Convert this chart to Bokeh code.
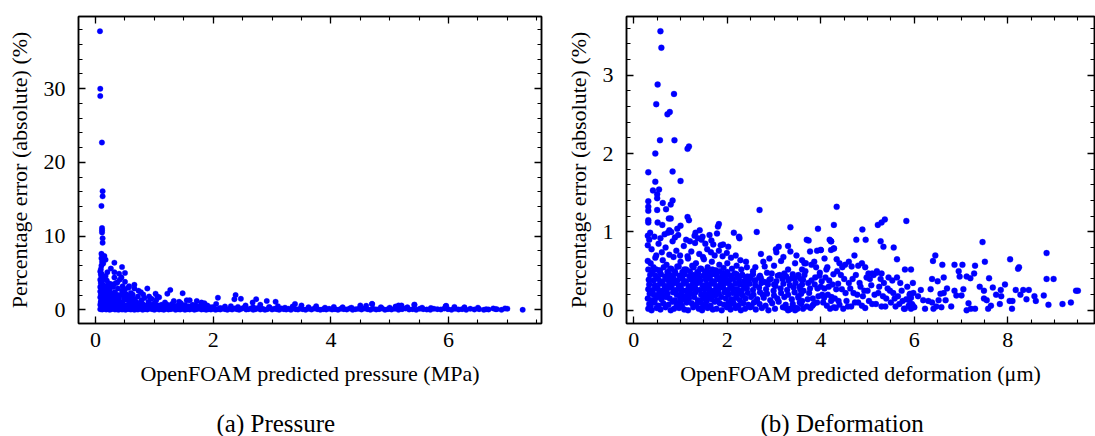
from bokeh.plotting import figure
from bokeh.models import LinearAxis, SingleIntervalTicker, Range1d, CustomJSTickFormatter
from bokeh.core.properties import value
from bokeh.layouts import row, column
from bokeh.embed import file_html
from bokeh.resources import INLINE

FONT = "Liberation Serif"
BLUE = "#0000ff"

# ---------------- (a) Pressure: predicted pressure (MPa) vs abs % error ----------------
pressure_outlier_x = [
    0.075, 0.08, 0.08, 0.108, 0.12, 0.12, 0.1, 0.11, 0.11, 0.11,
    0.12, 0.12, 0.1, 0.12, 0.15, 0.1, 0.17, 0.13, 0.1, 0.32,
    0.45, 0.26, 0.2, 0.32, 0.4, 0.5, 0.44, 0.32, 0.5, 0.37,
    0.57, 0.66, 0.66, 0.47, 0.51, 0.77, 0.88, 0.91, 1.02, 1.05,
    1.22, 1.27, 1.6, 1.85, 1.72, 1.48, 2.38, 2.36, 2.08, 2.73,
    2.67, 2.47, 2.91, 3.06, 3.39, 1.42, 0.11, 0.09, 7.26, 6.96,
]
pressure_outlier_err = [
    37.8, 30.0, 29.0, 22.7, 16.1, 15.4, 14.1, 11.1, 10.8, 10.5,
    9.7, 9.1, 7.6, 7.3, 7.3, 7.0, 6.8, 6.3, 6.0, 6.4,
    5.8, 5.6, 5.1, 5.1, 4.9, 5.0, 4.4, 4.4, 3.8, 3.7,
    3.2, 3.4, 2.9, 2.2, 2.2, 2.4, 2.9, 1.8, 2.2, 1.8,
    2.2, 2.7, 1.3, 0.9, 1.2, 2.25, 2.0, 1.45, 1.65, 1.45,
    1.0, 1.5, 1.2, 1.1, 0.8, 1.1, 6.5, 5.5, 0.0, 0.2,
]
pressure_cluster_x = [
    0.08, 0.09, 0.1, 0.08, 0.11, 0.09, 0.12, 0.08, 0.1, 0.13,
    0.08, 0.11, 0.09, 0.14, 0.08, 0.1, 0.12, 0.09, 0.15, 0.08,
    0.1, 0.13, 0.08, 0.11, 0.16, 0.09, 0.12, 0.14, 0.18, 0.2,
    0.17, 0.19, 0.22, 0.16, 0.21, 0.24, 0.18, 0.23, 0.27, 0.2,
    0.25, 0.28, 0.3, 0.26, 0.33, 0.29, 0.35, 0.31, 0.38, 0.34,
    0.36, 0.4, 0.42, 0.39, 0.45, 0.43, 0.48, 0.41, 0.52, 0.46,
    0.55, 0.5, 0.58, 0.53, 0.6, 0.62, 0.56, 0.65, 0.68, 0.63,
    0.7, 0.72, 0.75, 0.78, 0.73, 0.8, 0.83, 0.86, 0.81, 0.9,
    0.93, 0.95, 0.98, 1.0, 1.03, 1.06, 1.08, 1.12, 1.15, 1.18,
    1.2, 1.25, 1.3, 1.33, 1.38, 1.42, 1.45, 1.5, 1.55, 1.6,
    1.65, 1.7, 1.75, 1.8, 1.85, 1.9, 1.95, 2.0, 2.05, 2.12,
    0.1, 0.13, 0.16, 0.19, 0.22, 0.25, 0.28, 0.31, 0.34, 0.37,
    0.4, 0.43, 0.46, 0.49, 0.52, 0.55, 0.58, 0.61, 0.64, 0.67,
    0.09, 0.11, 0.13, 0.15, 0.17, 0.19, 0.21, 0.23, 0.1, 0.14,
]
pressure_cluster_err = [
    5.2, 4.8, 4.5, 4.1, 3.9, 3.6, 3.4, 3.1, 2.9, 2.7,
    2.5, 2.3, 2.1, 1.9, 1.7, 1.5, 1.3, 1.1, 0.9, 0.7,
    0.5, 0.3, 0.1, 0.05, 0.6, 1.0, 1.6, 2.2, 2.8, 3.3,
    4.6, 4.0, 3.6, 2.5, 2.0, 2.6, 1.2, 1.5, 1.9, 0.4,
    0.2, 0.9, 3.1, 3.5, 2.4, 1.3, 1.8, 0.6, 2.9, 3.6,
    1.1, 0.3, 2.0, 1.5, 2.6, 0.9, 1.6, 4.1, 0.5, 3.2,
    1.9, 2.8, 1.2, 0.2, 2.3, 0.7, 3.0, 1.5, 0.3, 2.1,
    1.0, 1.8, 0.4, 1.3, 2.6, 0.8, 1.6, 0.2, 2.1, 1.1,
    0.5, 1.5, 0.2, 0.9, 1.3, 0.4, 1.7, 0.7, 0.2, 1.0,
    0.5, 0.2, 0.8, 1.2, 0.4, 0.1, 0.9, 0.5, 1.3, 0.3,
    0.7, 0.2, 0.5, 1.0, 0.3, 0.6, 0.15, 0.4, 0.8, 0.25,
    1.2, 2.0, 1.4, 0.9, 2.9, 1.0, 2.2, 1.6, 0.8, 2.0,
    1.2, 0.5, 1.0, 2.2, 1.4, 0.6, 1.7, 1.0, 0.9, 1.3,
    3.9, 3.1, 2.6, 3.0, 1.8, 2.3, 1.1, 3.0, 4.9, 4.3,
]
pressure_band_x = [
    0.12, 0.15, 0.18, 0.21, 0.24, 0.27, 0.3, 0.33, 0.36, 0.39,
    0.42, 0.45, 0.48, 0.51, 0.54, 0.57, 0.6, 0.63, 0.66, 0.69,
    0.72, 0.76, 0.8, 0.84, 0.88, 0.92, 0.96, 1.0, 1.04, 1.08,
    1.12, 1.16, 1.2, 1.24, 1.28, 1.32, 1.36, 1.4, 1.44, 1.48,
    1.52, 1.56, 1.6, 1.64, 1.68, 1.72, 1.76, 1.8, 1.84, 1.88,
    1.92, 1.96, 2.0, 2.04, 2.08, 2.12, 2.16, 2.2, 2.24, 2.28,
    0.14, 0.2, 0.26, 0.32, 0.38, 0.44, 0.5, 0.56, 0.62, 0.68,
    0.74, 0.8, 0.86, 0.92, 0.98, 1.04, 1.1, 1.16, 1.22, 1.28,
    1.34, 1.4, 1.46, 1.52, 1.58, 1.64, 1.7, 1.76, 1.82, 1.88,
    2.32, 2.36, 2.4, 2.44, 2.48, 2.52, 2.56, 2.6, 2.64, 2.68,
    2.72, 2.76, 2.8, 2.84, 2.88, 2.92, 2.96, 3.0, 3.04, 3.08,
    3.12, 3.16, 3.2, 3.24, 3.28, 3.32, 3.36, 3.4, 3.44, 3.48,
    3.52, 3.57, 3.62, 3.67, 3.72, 3.77, 3.82, 3.87, 3.92, 3.97,
    4.02, 4.07, 4.12, 4.17, 4.22, 4.27, 4.32, 4.37, 4.42, 4.47,
    4.52, 4.57, 4.62, 4.67, 4.72, 4.77, 4.82, 4.87, 4.92, 4.97,
    5.03, 5.09, 5.15, 5.21, 5.27, 5.33, 5.39, 5.45, 5.51, 5.57,
    5.63, 5.69, 5.75, 5.81, 5.87, 5.93, 5.99, 6.05, 6.11, 6.17,
    6.23, 6.3, 6.37, 6.44, 6.52, 6.6, 6.68, 6.8, 6.9, 7.0,
    2.3, 2.42, 2.55, 2.68, 2.8, 2.95, 3.1, 3.22, 3.35, 3.5,
    3.62, 3.75, 3.9, 4.05, 4.2, 4.35, 4.5, 4.6, 4.7, 4.85,
    5.0, 5.1, 5.2, 5.3, 5.42, 5.55, 5.7, 5.95, 6.1, 6.5,
    6.82, 6.76, 6.64, 6.27, 5.96, 5.42, 5.15, 4.7, 2.2, 1.95,
]
pressure_band_err = [
    0.1, 0.2, 0.05, 0.15, 0.0, 0.1, 0.2, 0.05, 0.1, 0.0,
    0.15, 0.05, 0.1, 0.0, 0.2, 0.1, 0.05, 0.15, 0.0, 0.1,
    0.05, 0.15, 0.0, 0.1, 0.05, 0.2, 0.1, 0.0, 0.15, 0.05,
    0.1, 0.0, 0.15, 0.05, 0.1, 0.2, 0.0, 0.1, 0.05, 0.15,
    0.0, 0.1, 0.05, 0.15, 0.0, 0.1, 0.2, 0.05, 0.1, 0.0,
    0.1, 0.05, 0.15, 0.0, 0.1, 0.05, 0.2, 0.1, 0.0, 0.15,
    0.6, 0.8, 0.5, 0.7, 0.55, 0.9, 0.6, 0.75, 0.5, 0.65,
    0.7, 0.5, 0.6, 0.8, 0.55, 0.65, 0.5, 0.6, 0.7, 0.45,
    0.55, 0.6, 0.4, 0.65, 0.5, 0.45, 0.6, 0.4, 0.55, 0.45,
    0.05, 0.2, 0.1, 0.0, 0.15, 0.3, 0.05, 0.1, 0.2, 0.0,
    0.1, 0.25, 0.05, 0.15, 0.0, 0.1, 0.3, 0.05, 0.15, 0.1,
    0.0, 0.2, 0.1, 0.05, 0.15, 0.0, 0.25, 0.1, 0.05, 0.2,
    0.1, 0.0, 0.15, 0.05, 0.2, 0.1, 0.0, 0.1, 0.05, 0.15,
    0.05, 0.1, 0.0, 0.15, 0.1, 0.05, 0.2, 0.0, 0.1, 0.15,
    0.05, 0.2, 0.1, 0.0, 0.15, 0.05, 0.1, 0.2, 0.0, 0.1,
    0.05, 0.15, 0.0, 0.1, 0.2, 0.05, 0.1, 0.0, 0.15, 0.1,
    0.05, 0.0, 0.15, 0.1, 0.05, 0.2, 0.1, 0.0, 0.15, 0.05,
    0.1, 0.0, 0.15, 0.05, 0.1, 0.0, 0.05, 0.1, 0.0, 0.15,
    0.5, 0.4, 0.6, 0.35, 0.7, 0.4, 0.5, 0.3, 0.45, 0.6,
    0.35, 0.5, 0.3, 0.4, 0.35, 0.3, 0.6, 0.55, 0.8, 0.35,
    0.3, 0.45, 0.6, 0.35, 0.7, 0.3, 0.25, 0.5, 0.4, 0.3,
    0.1, 0.2, 0.1, 0.35, 0.55, 0.7, 0.6, 0.8, 0.45, 0.35,
]

# ---------------- (b) Deformation: predicted deformation (um) vs abs % error ----------------
deform_outlier_x = [
    0.57, 0.59, 0.51, 0.86, 0.48, 0.77, 0.72, 0.56, 0.87, 1.18,
    1.15, 0.46, 0.31, 0.83, 1.0, 0.46, 0.41, 0.54, 0.5, 0.5,
    0.31, 0.62, 0.83, 0.79, 0.31, 0.69, 0.5, 0.31, 2.69, 4.34,
    1.15, 1.18, 0.75, 0.79, 5.37, 5.83, 5.3, 5.22, 0.31, 0.31,
    0.51, 0.61, 1.0, 0.93, 1.82, 1.8, 4.28, 3.94, 4.89, 0.76,
    0.8, 0.35, 2.63, 2.14, 1.41, 3.35, 7.46, 8.83, 6.45, 5.34,
    5.28, 4.96, 4.76, 4.19, 4.22, 4.28, 4.22, 3.3, 3.1, 3.04,
    4.0, 3.77, 1.32, 1.47, 1.66, 1.91, 2.02, 2.25, 2.26, 7.51,
    8.05, 6.4, 6.6, 6.86, 7.03, 7.3, 5.63, 5.56, 5.93, 5.8,
    8.24, 8.22, 8.83, 8.98, 6.38, 6.5, 6.63, 6.97, 7.12, 7.28,
    7.2, 6.95, 9.46, 9.35, 9.17, 8.87, 8.77, 8.57, 8.45, 8.33,
    8.27, 8.17, 8.04, 8.09, 7.94, 7.85, 7.86, 7.83, 7.64, 7.58,
    7.55, 7.6, 7.68, 7.49, 7.49, 7.3, 7.21, 7.12, 7.16, 7.01,
    7.05, 6.86, 6.9, 6.79, 6.67, 6.63, 6.56, 6.52, 6.58, 6.47,
    6.41, 6.38, 6.35, 6.23, 6.19, 6.14, 6.08, 5.97, 5.93, 5.91,
    5.89, 5.97, 9.5, 8.4, 8.6, 8.1, 7.75, 6.7, 7.4, 6.3,
]
deform_outlier_err = [
    3.56, 3.35, 2.88, 2.76, 2.63, 2.53, 2.5, 2.17, 2.17, 2.09,
    2.06, 2.0, 1.76, 1.77, 1.65, 1.64, 1.53, 1.54, 1.48, 1.43,
    1.39, 1.37, 1.4, 1.35, 1.32, 1.29, 1.28, 1.27, 1.28, 1.32,
    1.19, 1.15, 1.17, 1.17, 1.16, 1.14, 1.12, 1.09, 1.15, 1.12,
    1.12, 1.09, 1.08, 1.04, 1.1, 1.07, 1.09, 1.04, 1.03, 1.02,
    1.0, 0.99, 1.0, 0.99, 1.02, 1.06, 0.87, 0.73, 0.7, 0.81,
    0.88, 0.9, 0.9, 0.9, 0.88, 0.79, 0.77, 0.82, 0.81, 0.78,
    0.77, 0.75, 0.99, 0.94, 0.89, 0.84, 0.81, 0.94, 0.92, 0.62,
    0.65, 0.63, 0.58, 0.58, 0.58, 0.57, 0.65, 0.8, 0.52, 0.52,
    0.55, 0.53, 0.4, 0.4, 0.4, 0.37, 0.42, 0.43, 0.43, 0.47,
    0.41, 0.5, 0.25, 0.1, 0.08, 0.07, 0.19, 0.18, 0.26, 0.26,
    0.2, 0.26, 0.12, 0.02, 0.33, 0.26, 0.18, 0.08, 0.06, 0.02,
    0.13, 0.41, 0.29, 0.25, 0.15, 0.02, 0.02, 0.0, 0.09, 0.19,
    0.27, 0.25, 0.19, 0.05, 0.13, 0.22, 0.21, 0.13, 0.04, 0.05,
    0.02, 0.1, 0.27, 0.02, 0.13, 0.26, 0.18, 0.06, 0.02, 0.21,
    0.13, 0.35, 0.25, 0.14, 0.12, 0.12, 0.2, 0.28, 0.3, 0.12,
]
deform_dense_x = [
    0.31, 0.38, 0.49, 0.57, 0.68, 0.79, 0.86, 0.97, 1.08, 1.16,
    1.27, 1.39, 1.46, 1.58, 1.69, 1.77, 1.88, 1.99, 2.07, 2.18,
    2.29, 2.38, 2.49, 2.61, 2.74, 2.88, 3.02, 3.19, 3.33, 3.48,
    0.33, 0.44, 0.53, 0.63, 0.74, 0.83, 0.94, 1.03, 1.13, 1.24,
    1.34, 1.43, 1.53, 1.64, 1.73, 1.84, 1.93, 2.03, 2.14, 2.24,
    2.34, 2.45, 2.57, 2.69, 2.82, 2.96, 3.1, 3.25, 3.4, 3.55,
    0.3, 0.39, 0.48, 0.59, 0.69, 0.77, 0.88, 0.99, 1.07, 1.18,
    1.29, 1.37, 1.48, 1.57, 1.67, 1.79, 1.87, 1.97, 2.09, 2.19,
    2.27, 2.39, 2.51, 2.64, 2.78, 2.92, 3.07, 3.22, 3.38, 3.52,
    0.34, 0.43, 0.54, 0.64, 0.72, 0.84, 0.92, 1.02, 1.14, 1.22,
    1.32, 1.44, 1.52, 1.62, 1.74, 1.82, 1.94, 2.02, 2.12, 2.22,
    2.33, 2.44, 2.56, 2.7, 2.85, 3.0, 3.15, 3.3, 3.44, 3.58,
    0.31, 0.41, 0.51, 0.61, 0.71, 0.81, 0.91, 1.01, 1.11, 1.21,
    1.31, 1.41, 1.51, 1.61, 1.71, 1.81, 1.91, 2.01, 2.11, 2.21,
    2.31, 2.42, 2.55, 2.68, 2.83, 2.99, 3.14, 3.28, 3.42, 3.56,
    0.33, 0.45, 0.56, 0.66, 0.76, 0.87, 0.96, 1.06, 1.17, 1.26,
    1.36, 1.47, 1.56, 1.66, 1.76, 1.86, 1.96, 2.06, 2.17, 2.27,
    2.37, 2.48, 2.6, 2.73, 2.87, 3.03, 3.2, 3.34, 3.46, 3.6,
    0.32, 0.42, 0.52, 0.62, 0.73, 0.82, 0.93, 1.04, 1.12, 1.23,
    1.33, 1.42, 1.54, 1.63, 1.72, 1.83, 1.92, 2.04, 2.13, 2.25,
    2.36, 2.47, 2.59, 2.72, 2.9, 3.05, 3.18, 3.31, 3.45, 3.62,
    0.35, 0.47, 0.58, 0.67, 0.78, 0.89, 0.98, 1.09, 1.19, 1.28,
    1.38, 1.49, 1.59, 1.68, 1.78, 1.89, 1.98, 2.08, 2.2, 2.32,
    2.43, 2.55, 2.7, 2.95, 3.12, 3.26, 3.4, 0.3, 0.3, 0.3,
    0.36, 0.44, 0.52, 0.6, 0.68, 0.76, 0.84, 0.92, 1.0, 1.08,
    1.16, 1.24, 1.32, 1.4, 1.48, 1.56, 1.64, 1.72, 1.8, 1.88,
    1.96, 2.04, 2.12, 2.2, 2.28, 2.36, 2.44, 2.52, 2.62, 2.76,
    0.4, 0.48, 0.56, 0.64, 0.72, 0.8, 0.88, 0.96, 1.04, 1.12,
    1.2, 1.28, 1.36, 1.44, 1.52, 1.6, 1.68, 1.76, 1.84, 1.92,
    2.0, 2.08, 2.16, 2.24, 2.32, 2.4, 2.5, 2.6, 2.8, 3.0,
]
deform_dense_err = [
    0.02, 0.0, 0.03, 0.01, 0.04, 0.0, 0.02, 0.03, 0.01, 0.0,
    0.04, 0.02, 0.0, 0.03, 0.01, 0.02, 0.0, 0.04, 0.01, 0.03,
    0.0, 0.02, 0.04, 0.01, 0.03, 0.0, 0.02, 0.04, 0.01, 0.03,
    0.08, 0.1, 0.06, 0.09, 0.07, 0.11, 0.08, 0.06, 0.1, 0.09,
    0.07, 0.1, 0.08, 0.06, 0.11, 0.09, 0.07, 0.1, 0.08, 0.06,
    0.09, 0.07, 0.1, 0.08, 0.06, 0.09, 0.11, 0.07, 0.08, 0.1,
    0.15, 0.13, 0.16, 0.14, 0.17, 0.15, 0.13, 0.16, 0.14, 0.15,
    0.17, 0.13, 0.15, 0.16, 0.14, 0.13, 0.17, 0.15, 0.14, 0.16,
    0.13, 0.15, 0.17, 0.14, 0.16, 0.13, 0.15, 0.17, 0.14, 0.16,
    0.21, 0.2, 0.22, 0.19, 0.21, 0.23, 0.2, 0.22, 0.19, 0.21,
    0.23, 0.2, 0.21, 0.22, 0.19, 0.21, 0.23, 0.2, 0.22, 0.21,
    0.19, 0.22, 0.2, 0.23, 0.21, 0.19, 0.22, 0.2, 0.23, 0.21,
    0.27, 0.26, 0.28, 0.25, 0.27, 0.29, 0.26, 0.28, 0.25, 0.27,
    0.29, 0.26, 0.27, 0.28, 0.25, 0.27, 0.29, 0.26, 0.28, 0.27,
    0.25, 0.28, 0.26, 0.29, 0.27, 0.25, 0.28, 0.26, 0.29, 0.27,
    0.33, 0.32, 0.34, 0.31, 0.33, 0.35, 0.32, 0.34, 0.31, 0.33,
    0.35, 0.32, 0.33, 0.34, 0.31, 0.33, 0.35, 0.32, 0.34, 0.33,
    0.31, 0.34, 0.32, 0.35, 0.33, 0.31, 0.34, 0.32, 0.35, 0.33,
    0.39, 0.38, 0.4, 0.37, 0.39, 0.41, 0.38, 0.4, 0.37, 0.39,
    0.41, 0.38, 0.39, 0.4, 0.37, 0.39, 0.41, 0.38, 0.4, 0.39,
    0.37, 0.4, 0.38, 0.41, 0.39, 0.37, 0.4, 0.38, 0.41, 0.39,
    0.45, 0.44, 0.46, 0.43, 0.45, 0.47, 0.44, 0.46, 0.43, 0.45,
    0.47, 0.44, 0.45, 0.46, 0.43, 0.45, 0.47, 0.44, 0.46, 0.45,
    0.43, 0.46, 0.44, 0.47, 0.45, 0.43, 0.46, 0.63, 0.83, 0.95,
    0.05, 0.12, 0.18, 0.24, 0.3, 0.36, 0.42, 0.06, 0.11, 0.17,
    0.23, 0.29, 0.35, 0.41, 0.05, 0.12, 0.18, 0.24, 0.3, 0.36,
    0.42, 0.06, 0.11, 0.17, 0.23, 0.29, 0.35, 0.05, 0.12, 0.2,
    0.49, 0.52, 0.5, 0.55, 0.49, 0.53, 0.5, 0.56, 0.49, 0.52,
    0.5, 0.55, 0.49, 0.53, 0.5, 0.48, 0.52, 0.49, 0.5, 0.47,
    0.49, 0.44, 0.47, 0.42, 0.45, 0.4, 0.43, 0.38, 0.36, 0.33,
]
deform_mid_x = [
    0.31, 0.36, 0.42, 0.48, 0.55, 0.62, 0.7, 0.78, 0.85, 0.93,
    1.0, 1.08, 1.16, 1.25, 1.33, 1.42, 1.5, 1.58, 1.67, 1.75,
    1.83, 1.92, 2.0, 2.1, 2.2, 2.3, 2.42, 2.55, 0.38, 0.46,
    0.53, 0.6, 0.68, 0.76, 0.83, 0.91, 0.99, 1.07, 1.15, 1.23,
    1.31, 1.4, 1.48, 1.57, 1.65, 1.73, 1.82, 1.9, 1.99, 2.08,
    2.18, 2.28, 2.4, 0.33, 0.44, 0.57, 0.66, 0.73, 0.88, 0.95,
    1.12, 1.2, 1.3, 1.37, 1.45, 1.53, 1.62, 1.7, 1.78, 1.86,
    2.6, 2.68, 2.77, 2.85, 2.93, 3.0, 3.08, 3.15, 3.22, 3.3,
    3.38, 3.45, 3.52, 2.72, 2.9, 3.05, 3.2, 3.35, 3.48, 2.8,
]
deform_mid_err = [
    0.52, 0.6, 0.55, 0.7, 0.51, 0.64, 0.58, 0.53, 0.68, 0.56,
    0.62, 0.52, 0.66, 0.57, 0.6, 0.53, 0.65, 0.55, 0.62, 0.51,
    0.58, 0.54, 0.6, 0.53, 0.57, 0.52, 0.55, 0.5, 0.78, 0.67,
    0.85, 0.74, 0.8, 0.71, 0.88, 0.76, 0.7, 0.82, 0.69, 0.75,
    0.86, 0.72, 0.68, 0.78, 0.74, 0.7, 0.76, 0.69, 0.73, 0.67,
    0.7, 0.64, 0.62, 0.9, 0.94, 0.92, 0.97, 0.99, 0.93, 0.96,
    0.9, 0.88, 0.95, 0.92, 0.9, 0.85, 0.96, 0.84, 0.98, 0.83,
    0.55, 0.42, 0.62, 0.48, 0.4, 0.57, 0.44, 0.63, 0.47, 0.52,
    0.41, 0.6, 0.45, 0.72, 0.66, 0.74, 0.68, 0.75, 0.7, 0.56,
]
deform_spread_x = [
    3.55, 3.6, 3.65, 3.7, 3.75, 3.8, 3.85, 3.9, 3.95, 4.0,
    4.05, 4.1, 4.15, 4.2, 4.25, 4.3, 4.35, 4.4, 4.45, 4.5,
    4.55, 4.6, 4.65, 4.7, 4.75, 4.8, 4.85, 4.9, 4.95, 5.0,
    5.05, 5.1, 5.15, 5.2, 5.25, 5.3, 5.35, 5.4, 5.45, 5.5,
    5.55, 5.6, 5.65, 5.7, 5.75, 5.8, 5.85, 5.9, 5.95, 6.0,
    3.58, 3.63, 3.68, 3.73, 3.78, 3.83, 3.88, 3.93, 3.98, 4.03,
    4.08, 4.13, 4.18, 4.23, 4.28, 4.33, 4.38, 4.43, 4.48, 4.53,
    4.58, 4.63, 4.68, 4.73, 4.78, 4.83, 4.88, 4.93, 4.98, 5.03,
    5.08, 5.13, 5.18, 5.23, 5.28, 5.33, 5.38, 5.43, 5.48, 5.53,
    5.58, 5.63, 5.68, 5.73, 5.78, 5.83, 5.88, 5.93, 5.98, 3.6,
    3.52, 3.57, 3.62, 3.67, 3.72, 3.77, 3.82, 3.87, 3.92, 3.97,
    4.02, 4.07, 4.12, 4.17, 4.22, 4.27, 4.32, 4.37, 3.6, 3.65,
    3.7, 3.74, 3.8, 3.86, 3.92, 4.0, 4.08, 4.14, 4.22, 4.28,
    4.34, 4.4, 4.46, 4.52, 4.6, 4.66, 4.72, 4.8, 4.88, 4.95,
    5.02, 5.1, 5.2, 5.3, 3.5, 3.45, 3.4, 3.35, 3.3, 3.25,
]
deform_spread_err = [
    0.3, 0.12, 0.45, 0.05, 0.22, 0.38, 0.08, 0.55, 0.18, 0.3,
    0.1, 0.42, 0.2, 0.02, 0.33, 0.15, 0.5, 0.07, 0.27, 0.4,
    0.12, 0.35, 0.05, 0.22, 0.45, 0.1, 0.3, 0.18, 0.03, 0.25,
    0.4, 0.08, 0.2, 0.48, 0.3, 0.05, 0.35, 0.15, 0.42, 0.1,
    0.22, 0.05, 0.18, 0.35, 0.12, 0.02, 0.3, 0.2, 0.08, 0.04,
    0.08, 0.25, 0.6, 0.35, 0.03, 0.15, 0.42, 0.28, 0.48, 0.2,
    0.28, 0.06, 0.38, 0.17, 0.04, 0.27, 0.12, 0.45, 0.02, 0.22,
    0.05, 0.28, 0.4, 0.1, 0.2, 0.35, 0.06, 0.25, 0.42, 0.12,
    0.32, 0.45, 0.08, 0.22, 0.4, 0.18, 0.05, 0.28, 0.25, 0.38,
    0.15, 0.42, 0.08, 0.25, 0.02, 0.14, 0.06, 0.16, 0.22, 0.52,
    0.18, 0.4, 0.02, 0.5, 0.14, 0.28, 0.06, 0.33, 0.1, 0.44,
    0.37, 0.16, 0.52, 0.3, 0.12, 0.46, 0.03, 0.34, 0.64, 0.6,
    0.9, 0.89, 0.58, 0.62, 0.76, 0.77, 0.66, 0.55, 0.88, 0.79,
    0.65, 0.6, 0.55, 0.58, 0.62, 0.56, 0.7, 0.57, 0.6, 0.55,
    0.47, 0.47, 0.5, 0.47, 0.02, 0.0, 0.05, 0.02, 0.0, 0.03,
]

captions = ["(a) Pressure", "(b) Deformation"]

pressure_x = pressure_outlier_x + pressure_cluster_x + pressure_band_x
pressure_err = pressure_outlier_err + pressure_cluster_err + pressure_band_err
deform_x = deform_outlier_x + deform_dense_x + deform_mid_x + deform_spread_x
deform_err = deform_outlier_err + deform_dense_err + deform_mid_err + deform_spread_err
for a, b, n in [(pressure_outlier_x, pressure_outlier_err, "p_out"),
                (pressure_cluster_x, pressure_cluster_err, "p_cl"),
                (pressure_band_x, pressure_band_err, "p_band"),
                (deform_outlier_x, deform_outlier_err, "d_out"),
                (deform_dense_x, deform_dense_err, "d_dense"),
                (deform_mid_x, deform_mid_err, "d_mid"),
                (deform_spread_x, deform_spread_err, "d_spread")]:
    assert len(a) == len(b), (n, len(a), len(b))

y_label = "Percentage error (absolute) (%)"
BLANK = CustomJSTickFormatter(code="return ''")


def style_axis(ax):
    ax.axis_line_color = "black"
    ax.axis_line_width = 1.5
    ax.major_tick_in = 7
    ax.major_tick_out = 0
    ax.minor_tick_in = 4
    ax.minor_tick_out = 0
    ax.major_tick_line_width = 1.3
    ax.minor_tick_line_width = 1.1
    ax.major_tick_line_color = "black"
    ax.minor_tick_line_color = "black"
    ax.major_label_text_font = FONT
    ax.major_label_text_font_size = "22px"
    ax.major_label_text_color = "black"
    ax.axis_label_text_font = FONT
    ax.axis_label_text_font_size = "22px"
    ax.axis_label_text_font_style = "normal"
    ax.axis_label_text_color = "black"


def make_panel(width, xr, yr, bl, br, bt, xlabel, x_interval, y_interval):
    p = figure(width=width, height=400, x_range=Range1d(*xr), y_range=Range1d(*yr),
               output_backend="svg", toolbar_location=None,
               min_border_left=bl, min_border_right=br, min_border_top=bt,
               min_border_bottom=77)
    p.background_fill_color = "white"
    p.border_fill_color = "white"
    p.outline_line_color = "black"
    p.outline_line_width = 1.5
    p.xgrid.visible = False
    p.ygrid.visible = False

    xt = SingleIntervalTicker(interval=x_interval, num_minor_ticks=4)
    yt = SingleIntervalTicker(interval=y_interval, num_minor_ticks=5)
    xa = p.below[0]
    ya = p.left[0]
    xa.ticker = xt
    ya.ticker = yt
    top = LinearAxis(ticker=xt, formatter=BLANK, major_label_standoff=0)
    rgt = LinearAxis(ticker=yt, formatter=BLANK, major_label_standoff=0)
    p.add_layout(top, "above")
    p.add_layout(rgt, "right")
    for ax in (xa, ya, top, rgt):
        style_axis(ax)

    xa.axis_label = xlabel
    xa.major_label_standoff = 9
    xa.axis_label_standoff = 11
    ya.axis_label = y_label
    ya.major_label_standoff = 13
    ya.axis_label_standoff = 9
    return p


def make_caption(width, text, left):
    c = figure(width=width, height=36, x_range=Range1d(0, width), y_range=Range1d(0, 36),
               output_backend="svg", toolbar_location=None, min_border=0)
    c.axis.visible = False
    c.xgrid.visible = False
    c.ygrid.visible = False
    c.outline_line_color = None
    c.background_fill_color = "white"
    c.border_fill_color = "white"
    c.text(x=[left], y=[13], text=[text], text_font=value(FONT), text_font_size=value("25px"),
           text_color="black", text_align="left", text_baseline="middle")
    return c


p1 = make_panel(560, (-0.29, 7.58), (-1.85, 39.8), 78, 19, 16,
                "OpenFOAM predicted pressure (MPa)", 2, 10)
p1.scatter(pressure_x, pressure_err, size=5.5, fill_color=BLUE, line_color=BLUE, line_width=0.3)

p2 = make_panel(535, (-0.156, 9.855), (-0.168, 3.748), 66, 1, 11,
                "OpenFOAM predicted deformation (\u03bcm)", 2, 1)
p2.scatter(deform_x, deform_err, size=6, fill_color=BLUE, line_color=BLUE, line_width=0.3)

c1 = make_caption(560, captions[0], 216)
c2 = make_caption(535, captions[1], 200)

layout = column(row(p1, p2), row(c1, c2))
open("out.html", "w").write(file_html(layout, INLINE))
